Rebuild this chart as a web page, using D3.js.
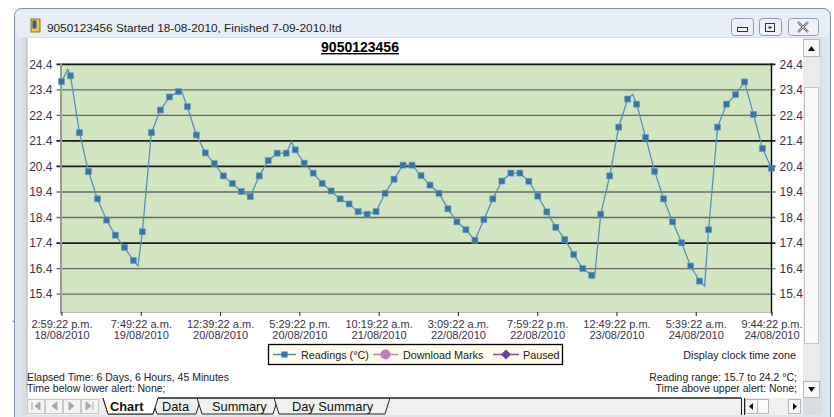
<!DOCTYPE html>
<html><head><meta charset="utf-8">
<script src="https://cdn.jsdelivr.net/npm/d3@7"></script>
<style>
html,body{margin:0;padding:0;background:#fff;}
svg{display:block;font-family:"Liberation Sans",Arial,sans-serif;}
</style></head><body>
<svg id="c" width="834" height="417"></svg>
<script>
// ---------------- DATA ----------------
const windowTitle = "9050123456 Started 18-08-2010, Finished 7-09-2010.ltd";
const chartTitle = "9050123456";
const startTime = "2010-08-18T14:59:22Z";
const endTime = "2010-08-24T21:44:22Z";
// readings shown with a marker (evenly spaced from start to end)
const markerValues = [
  23.72, 23.95, 21.72, 20.20, 19.13, 18.30, 17.71, 17.23, 16.72, 17.84,
  21.72, 22.61, 23.12, 23.33, 22.74, 21.63, 20.93, 20.51, 20.03, 19.73,
  19.42, 19.22, 20.03, 20.63, 20.92, 20.92, 21.05, 20.53, 20.14, 19.74,
  19.44, 19.13, 18.93, 18.63, 18.53, 18.63, 19.35, 19.90, 20.45, 20.45,
  20.04, 19.67, 19.35, 18.74, 18.23, 17.92, 17.51, 18.32, 19.13, 19.83,
  20.14, 20.14, 19.82, 19.24, 18.62, 18.02, 17.54, 16.95, 16.40, 16.14,
  18.53, 20.03, 21.94, 23.04, 22.84, 21.53, 20.21, 19.13, 18.23, 17.41,
  16.50, 15.91, 17.92, 21.94, 22.84, 23.21, 23.71, 22.44, 21.10, 20.33
];
// extra readings on the line between markers: [minutes after start, value]
const extraMinutes = [79, 974, 1521, 2931, 6792, 7276, 8193];
const extraValues  = [24.2, 16.5, 23.42, 21.37, 16.08, 23.22, 15.72];
const yTicks = [15.4, 16.4, 17.4, 18.4, 19.4, 20.4, 21.4, 22.4, 23.4, 24.4];
const yHeavy = [24.4, 21.4, 20.4, 17.4];
const xTickTimes = ["2010-08-18T14:59:22Z","2010-08-19T07:49:22Z","2010-08-20T00:39:22Z",
  "2010-08-20T17:29:22Z","2010-08-21T10:19:22Z","2010-08-22T03:09:22Z","2010-08-22T19:59:22Z",
  "2010-08-23T12:49:22Z","2010-08-24T05:39:22Z","2010-08-24T21:44:22Z"];
const xTickClock = ["2:59:22 p.m.","7:49:22 a.m.","12:39:22 a.m.","5:29:22 p.m.","10:19:22 a.m.",
  "3:09:22 a.m.","7:59:22 p.m.","12:49:22 p.m.","5:39:22 a.m.","9:44:22 p.m."];
const xTickDay = ["18/08/2010","19/08/2010","20/08/2010","20/08/2010","21/08/2010",
  "22/08/2010","22/08/2010","23/08/2010","24/08/2010","24/08/2010"];
const legendItems = ["Readings (°C)", "Download Marks", "Paused"];
const tabs = ["Chart", "Data", "Summary", "Day Summary"];
const infoLeft = ["Elapsed Time: 6 Days, 6 Hours, 45 Minutes", "Time below lower alert: None;"];
const infoRight = ["Reading range: 15.7 to 24.2 °C;", "Time above upper alert: None;"];

// ---------------- DRAW ----------------
const svg = d3.select("#c");
const t0 = new Date(startTime), t1 = new Date(endTime);
const step = (t1 - t0) / (markerValues.length - 1);
const markers = markerValues.map((v, i) => ({t: new Date(+t0 + i * step), v}));
const extras = extraMinutes.map((m, i) => ({t: new Date(+t0 + m * 60000), v: extraValues[i]}));
const lineData = markers.concat(extras).sort((a, b) => a.t - b.t);

const L = 61.5, R = 771.5, T = 64.3, B = 312;
const x = d3.scaleUtc().domain([t0, t1]).range([L, R]);
const y = d3.scaleLinear().domain([14.7, 24.4]).range([B, T]);
const FF = "'Liberation Sans Narrow','Liberation Sans',Arial";

// window frame
svg.append("rect").attr("x", 14.5).attr("y", 8.5).attr("width", 816).attr("height", 440)
  .attr("rx", 7).attr("fill", "#dde6ef").attr("stroke", "#8393a6");
svg.append("rect").attr("x", 15.5).attr("y", 9.5).attr("width", 814).attr("height", 28)
  .attr("rx", 6).attr("fill", "#e7eef6");
// icon
svg.append("rect").attr("x", 31).attr("y", 19).attr("width", 9).attr("height", 13).attr("fill", "#f2c53d").attr("stroke", "#6d5a1a").attr("stroke-width", 0.8);
svg.append("rect").attr("x", 32.5).attr("y", 20.5).attr("width", 4).attr("height", 8).attr("fill", "#3d55a8");
svg.append("text").attr("x", 47).attr("y", 31.5).attr("font-size", 11.8).attr("fill", "#1e1e1e")
  .attr("font-family", FF).text(windowTitle);
// window buttons
[[731, 22], [759, 22], [788, 30]].forEach(([bx, bw]) => {
  svg.append("rect").attr("x", bx + 0.5).attr("y", 18.5).attr("width", bw).attr("height", 17)
    .attr("rx", 3).attr("fill", "#eef2f7").attr("stroke", "#8d9bb0");
});
svg.append("rect").attr("x", 737.5).attr("y", 27.5).attr("width", 10).attr("height", 4).attr("fill", "none").attr("stroke", "#333");
svg.append("rect").attr("x", 765.5).attr("y", 23.5).attr("width", 9).attr("height", 8).attr("fill", "none").attr("stroke", "#333");
svg.append("rect").attr("x", 768.5).attr("y", 26.5).attr("width", 3).attr("height", 2).attr("fill", "#333");
svg.append("path").attr("d", "M798,22 L808,32 M808,22 L798,32").attr("stroke", "#555").attr("stroke-width", 2.2);
svg.append("path").attr("d", "M798,22 L808,32 M808,22 L798,32").attr("stroke", "#eef2f7").attr("stroke-width", 0.8);

// client area
svg.append("rect").attr("x", 22).attr("y", 37).attr("width", 800).attr("height", 378).attr("fill", "#d9dde3");
svg.append("rect").attr("x", 27).attr("y", 38).attr("width", 776).attr("height", 360).attr("fill", "#fff");
svg.append("line").attr("x1", 27).attr("x2", 27).attr("y1", 38).attr("y2", 398).attr("stroke", "#a9afb7");

// vertical scrollbar
svg.append("rect").attr("x", 803).attr("y", 38).attr("width", 17).attr("height", 360).attr("fill", "#ebebeb");
svg.append("rect").attr("x", 803.5).attr("y", 39.5).attr("width", 16).attr("height", 17).attr("fill", "#f7f7f7").attr("stroke", "#b5b5b5");
svg.append("path").attr("d", "M808,51 L815,51 L811.5,46 Z").attr("fill", "#111");
svg.append("rect").attr("x", 804.5).attr("y", 87.5).attr("width", 14).attr("height", 256).attr("fill", "#f9f9f9").attr("stroke", "#c4c4c4");
svg.append("rect").attr("x", 803.5).attr("y", 381.5).attr("width", 16).attr("height", 16).attr("fill", "#f7f7f7").attr("stroke", "#b5b5b5");
svg.append("path").attr("d", "M808,387 L815,387 L811.5,392 Z").attr("fill", "#111");

// title
svg.append("text").attr("x", 360).attr("y", 52).attr("text-anchor", "middle").attr("font-size", 14)
  .attr("font-weight", "bold").attr("text-decoration", "underline").attr("fill", "#000").text(chartTitle);

// plot background
svg.append("rect").attr("x", L).attr("y", T - 1).attr("width", R - L).attr("height", B - T + 1).attr("fill", "#d1e5c0");

// gridlines
svg.append("g").selectAll("line").data(yTicks).join("line")
  .attr("x1", L - 5).attr("x2", R + 4)
  .attr("y1", d => y(d)).attr("y2", d => y(d))
  .attr("stroke", d => yHeavy.includes(d) ? "#1c1c1c" : "#676767")
  .attr("stroke-width", d => yHeavy.includes(d) ? 1.8 : 1.4);

// axes
const leftAx = svg.append("g").attr("transform", `translate(${L},0)`)
  .call(d3.axisLeft(y).tickValues(yTicks).tickSize(0).tickPadding(9).tickFormat(d3.format(".1f")));
const rightAx = svg.append("g").attr("transform", `translate(${R},0)`)
  .call(d3.axisRight(y).tickValues(yTicks).tickSize(0).tickPadding(8).tickFormat(d3.format(".1f")));
[leftAx, rightAx].forEach(a => {
  a.select(".domain").remove();
  a.selectAll("text").attr("fill", "#3b3548").attr("font-family", FF).attr("font-size", 12);
});
svg.append("line").attr("x1", L - 0.5).attr("x2", L - 0.5).attr("y1", T - 1).attr("y2", B + 2)
  .attr("stroke", "#9a9a9a").attr("stroke-width", 2);
svg.append("line").attr("x1", R).attr("x2", R).attr("y1", T - 1).attr("y2", B + 2)
  .attr("stroke", "#000").attr("stroke-width", 1.4);
svg.append("line").attr("x1", L).attr("x2", R).attr("y1", B + 0.5).attr("y2", B + 0.5)
  .attr("stroke", "#bdbdbd").attr("stroke-width", 1);

const xTicks = xTickTimes.map(s => new Date(s));
const botAx = svg.append("g").attr("transform", `translate(0,${B})`)
  .call(d3.axisBottom(x).tickValues(xTicks).tickSize(4).tickFormat(""));
botAx.select(".domain").remove();
botAx.selectAll(".tick line").attr("stroke", "#222");
botAx.selectAll(".tick").each(function(d, i) {
  const tx = d3.select(this).append("text").attr("text-anchor", "middle").attr("fill", "#38344a")
    .attr("font-size", 11).attr("font-family", FF);
  tx.append("tspan").attr("x", 0).attr("y", 16).text(xTickClock[i]);
  tx.append("tspan").attr("x", 0).attr("y", 26.5).text(xTickDay[i]);
});

// series line + markers
svg.append("path").datum(lineData)
  .attr("d", d3.line().x(d => x(d.t)).y(d => y(d.v)))
  .attr("fill", "none").attr("stroke", "#5690bb").attr("stroke-width", 1.3);
svg.append("g").selectAll("rect").data(markers).join("rect")
  .attr("x", d => x(d.t) - 3).attr("y", d => y(d.v) - 3).attr("width", 6).attr("height", 6)
  .attr("fill", "#3a74a4").attr("stroke", "#6b9cc4").attr("stroke-width", 0.6);

// legend
const lg = svg.append("g");
lg.append("rect").attr("x", 268.5).attr("y", 344.5).attr("width", 294).attr("height", 20)
  .attr("fill", "#fffcec").attr("stroke", "#000").attr("stroke-width", 1.3);
lg.append("line").attr("x1", 273).attr("x2", 296).attr("y1", 354.5).attr("y2", 354.5).attr("stroke", "#4f8ab6").attr("stroke-width", 1.5);
lg.append("rect").attr("x", 281.5).attr("y", 351.5).attr("width", 6).attr("height", 6).attr("fill", "#3a74a4");
lg.append("line").attr("x1", 373).attr("x2", 398).attr("y1", 354.5).attr("y2", 354.5).attr("stroke", "#c77ab6").attr("stroke-width", 1.5);
lg.append("circle").attr("cx", 385.5).attr("cy", 354.5).attr("r", 5).attr("fill", "#c97ab8");
lg.append("line").attr("x1", 493).attr("x2", 519).attr("y1", 354.5).attr("y2", 354.5).attr("stroke", "#7d4ea8").attr("stroke-width", 1.5);
lg.append("path").attr("d", "M506,349.5 L511,354.5 L506,359.5 L501,354.5 Z").attr("fill", "#6d3f9e");
const lx = [301, 403, 523];
legendItems.forEach((s, i) => lg.append("text").attr("x", lx[i]).attr("y", 358.5).attr("font-size", 10.8)
  .attr("font-family", FF).attr("fill", "#222").text(s));

svg.append("text").attr("x", 796).attr("y", 359).attr("text-anchor", "end").attr("font-size", 10.8)
  .attr("font-family", FF).attr("fill", "#222").text("Display clock time zone");

// info texts
infoLeft.forEach((s, i) => svg.append("text").attr("x", 27).attr("y", 381 + i * 10.5).attr("font-size", 10.5)
  .attr("font-family", FF).attr("fill", "#222").text(s));
infoRight.forEach((s, i) => svg.append("text").attr("x", 797).attr("y", 381 + i * 10.5).attr("text-anchor", "end").attr("font-size", 10.5)
  .attr("font-family", FF).attr("fill", "#222").text(s));

// tab bar
svg.append("rect").attr("x", 27).attr("y", 398).attr("width", 776).attr("height", 17).attr("fill", "#f0f0f0");
const navSyms = ["M32,402 L32,410 M40,402 L35,406 L40,410 Z", "M57,402 L52,406 L57,410 Z", "M69,402 L74,406 L69,410 Z", "M86,402 L91,406 L86,410 Z M93,402 L93,410"];
[27, 45, 63, 81].forEach((bx, i) => {
  svg.append("rect").attr("x", bx + 0.5).attr("y", 399.5).attr("width", 17).attr("height", 14).attr("fill", "#f4f4f4").attr("stroke", "#c8c8c8");
  svg.append("path").attr("d", navSyms[i]).attr("fill", "#a8a8a8").attr("stroke", "#a8a8a8").attr("stroke-width", 1);
});
const tabX = [[103, 158], [152, 201], [197, 278], [274, 390]];
const tabTextX = [110, 162, 212, 292];
tabs.forEach((s, i) => {
  const [a, b] = tabX[i];
  svg.append("path").attr("d", `M${a},398 L${a + 5},414 L${b - 5},414 L${b},398`)
    .attr("fill", i === 0 ? "#fff" : "#f0f0f0").attr("stroke", "#222").attr("stroke-width", 1);
});
svg.append("path").attr("d", `M103,398 L108,414 L153,414 L158,398`).attr("fill", "#fff").attr("stroke", "#222");
tabs.forEach((s, i) => svg.append("text").attr("x", tabTextX[i]).attr("y", 410.5).attr("font-size", 12.8)
  .attr("font-weight", i === 0 ? "bold" : "normal").attr("fill", "#111").text(s));
svg.append("line").attr("x1", 158).attr("x2", 741).attr("y1", 398).attr("y2", 398).attr("stroke", "#222").attr("stroke-width", 1.3);
svg.append("line").attr("x1", 741.5).attr("x2", 741.5).attr("y1", 398).attr("y2", 415).attr("stroke", "#222");
svg.append("line").attr("x1", 744.5).attr("x2", 744.5).attr("y1", 398).attr("y2", 415).attr("stroke", "#222");
svg.append("rect").attr("x", 745.5).attr("y", 399.5).attr("width", 12).attr("height", 14).attr("fill", "#f7f7f7").attr("stroke", "#b5b5b5");
svg.append("path").attr("d", "M753,403 L749,406.5 L753,410 Z").attr("fill", "#111");
svg.append("rect").attr("x", 757.5).attr("y", 399.5).attr("width", 11).attr("height", 14).attr("fill", "#fafafa").attr("stroke", "#b5b5b5");
svg.append("rect").attr("x", 788.5).attr("y", 399.5).attr("width", 12).attr("height", 14).attr("fill", "#f7f7f7").attr("stroke", "#b5b5b5");
svg.append("path").attr("d", "M793,403 L797,406.5 L793,410 Z").attr("fill", "#111");

svg.append("text").attr("x", 12).attr("y", 322).attr("font-size", 10).attr("fill", "#333").text(".");
</script>
</body></html>
